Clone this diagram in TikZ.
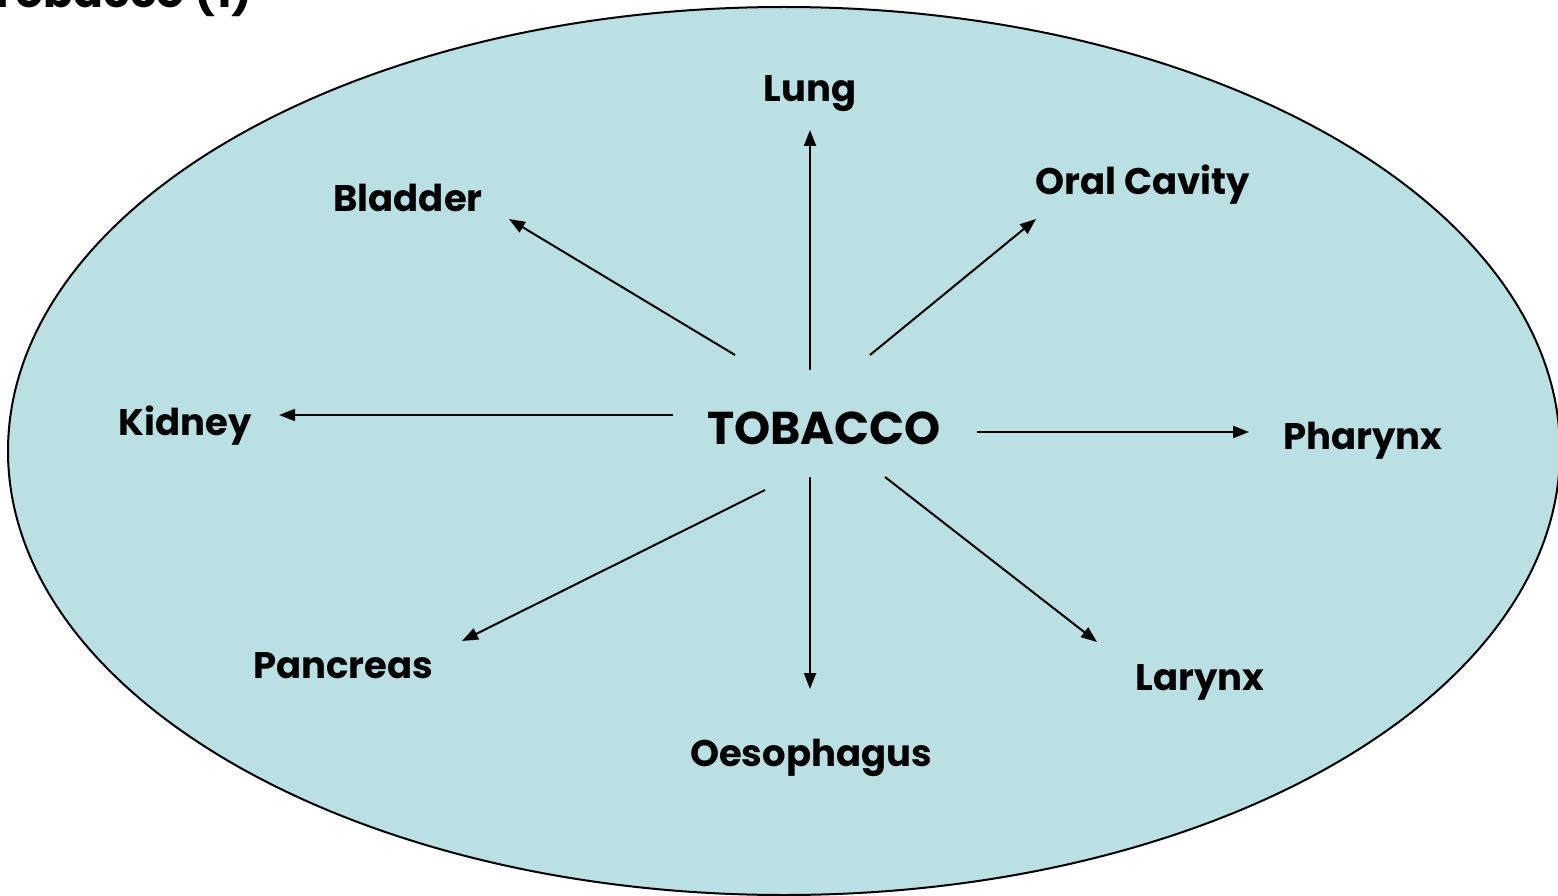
\documentclass[tikz,border=0pt]{standalone}
\usepackage{fontspec}
\setmainfont{Poppins}
\usetikzlibrary{arrows.meta}
\definecolor{ovalfill}{HTML}{BBE0E3}
\tikzset{
  lbl/.style={font=\fontsize{37}{44}\selectfont\bfseries, inner sep=0pt},
  big/.style={font=\fontsize{46}{54}\selectfont\bfseries, inner sep=0pt},
  ttl/.style={font=\fontsize{44}{52}\selectfont\bfseries, inner sep=0pt},
  arr/.style={line width=2pt, -{Triangle[length=16pt,width=12pt]}}
}
\begin{document}
\begin{tikzpicture}[x=1pt,y=-1pt]
\useasboundingbox (0,0) rectangle (1558,896);
\fill[ovalfill] (784,451) ellipse [x radius=776, y radius=444];
\draw[line width=2pt] (784,451) ellipse [x radius=776, y radius=444];
\node[ttl, anchor=base east] (title) at (253,8) {Tobacco (1)};
\node[big] (tob) at (824,428) {TOBACCO};
\node[lbl] (lung) at (810,94) {Lung};
\node[lbl] (blad) at (408,198) {Bladder};
\node[lbl] (oral) at (1143,185) {Oral Cavity};
\node[lbl] (kid) at (185,426) {Kidney};
\node[lbl] (phar) at (1363,441) {Pharynx};
\node[lbl] (panc) at (343,666) {Pancreas};
\node[lbl] (oeso) at (811,758) {Oesophagus};
\node[lbl] (lar) at (1200,682) {Larynx};
\coordinate (sLung) at (810,370); \coordinate (eLung) at (810,130);
\coordinate (sOral) at (870,355); \coordinate (eOral) at (1036,219);
\coordinate (sBlad) at (735,355); \coordinate (eBlad) at (509,219);
\coordinate (sKid) at (673,415); \coordinate (eKid) at (279,415);
\coordinate (sPhar) at (977,432); \coordinate (ePhar) at (1249,432);
\coordinate (sPanc) at (765,490); \coordinate (ePanc) at (462,641);
\coordinate (sOeso) at (810,477); \coordinate (eOeso) at (810,689);
\coordinate (sLar) at (885,477); \coordinate (eLar) at (1097,642);
\draw[arr] (sLung) -- (eLung);
\draw[arr] (sOral) -- (eOral);
\draw[arr] (sBlad) -- (eBlad);
\draw[arr] (sKid) -- (eKid);
\draw[arr] (sPhar) -- (ePhar);
\draw[arr] (sPanc) -- (ePanc);
\draw[arr] (sOeso) -- (eOeso);
\draw[arr] (sLar) -- (eLar);
\end{tikzpicture}
\end{document}
